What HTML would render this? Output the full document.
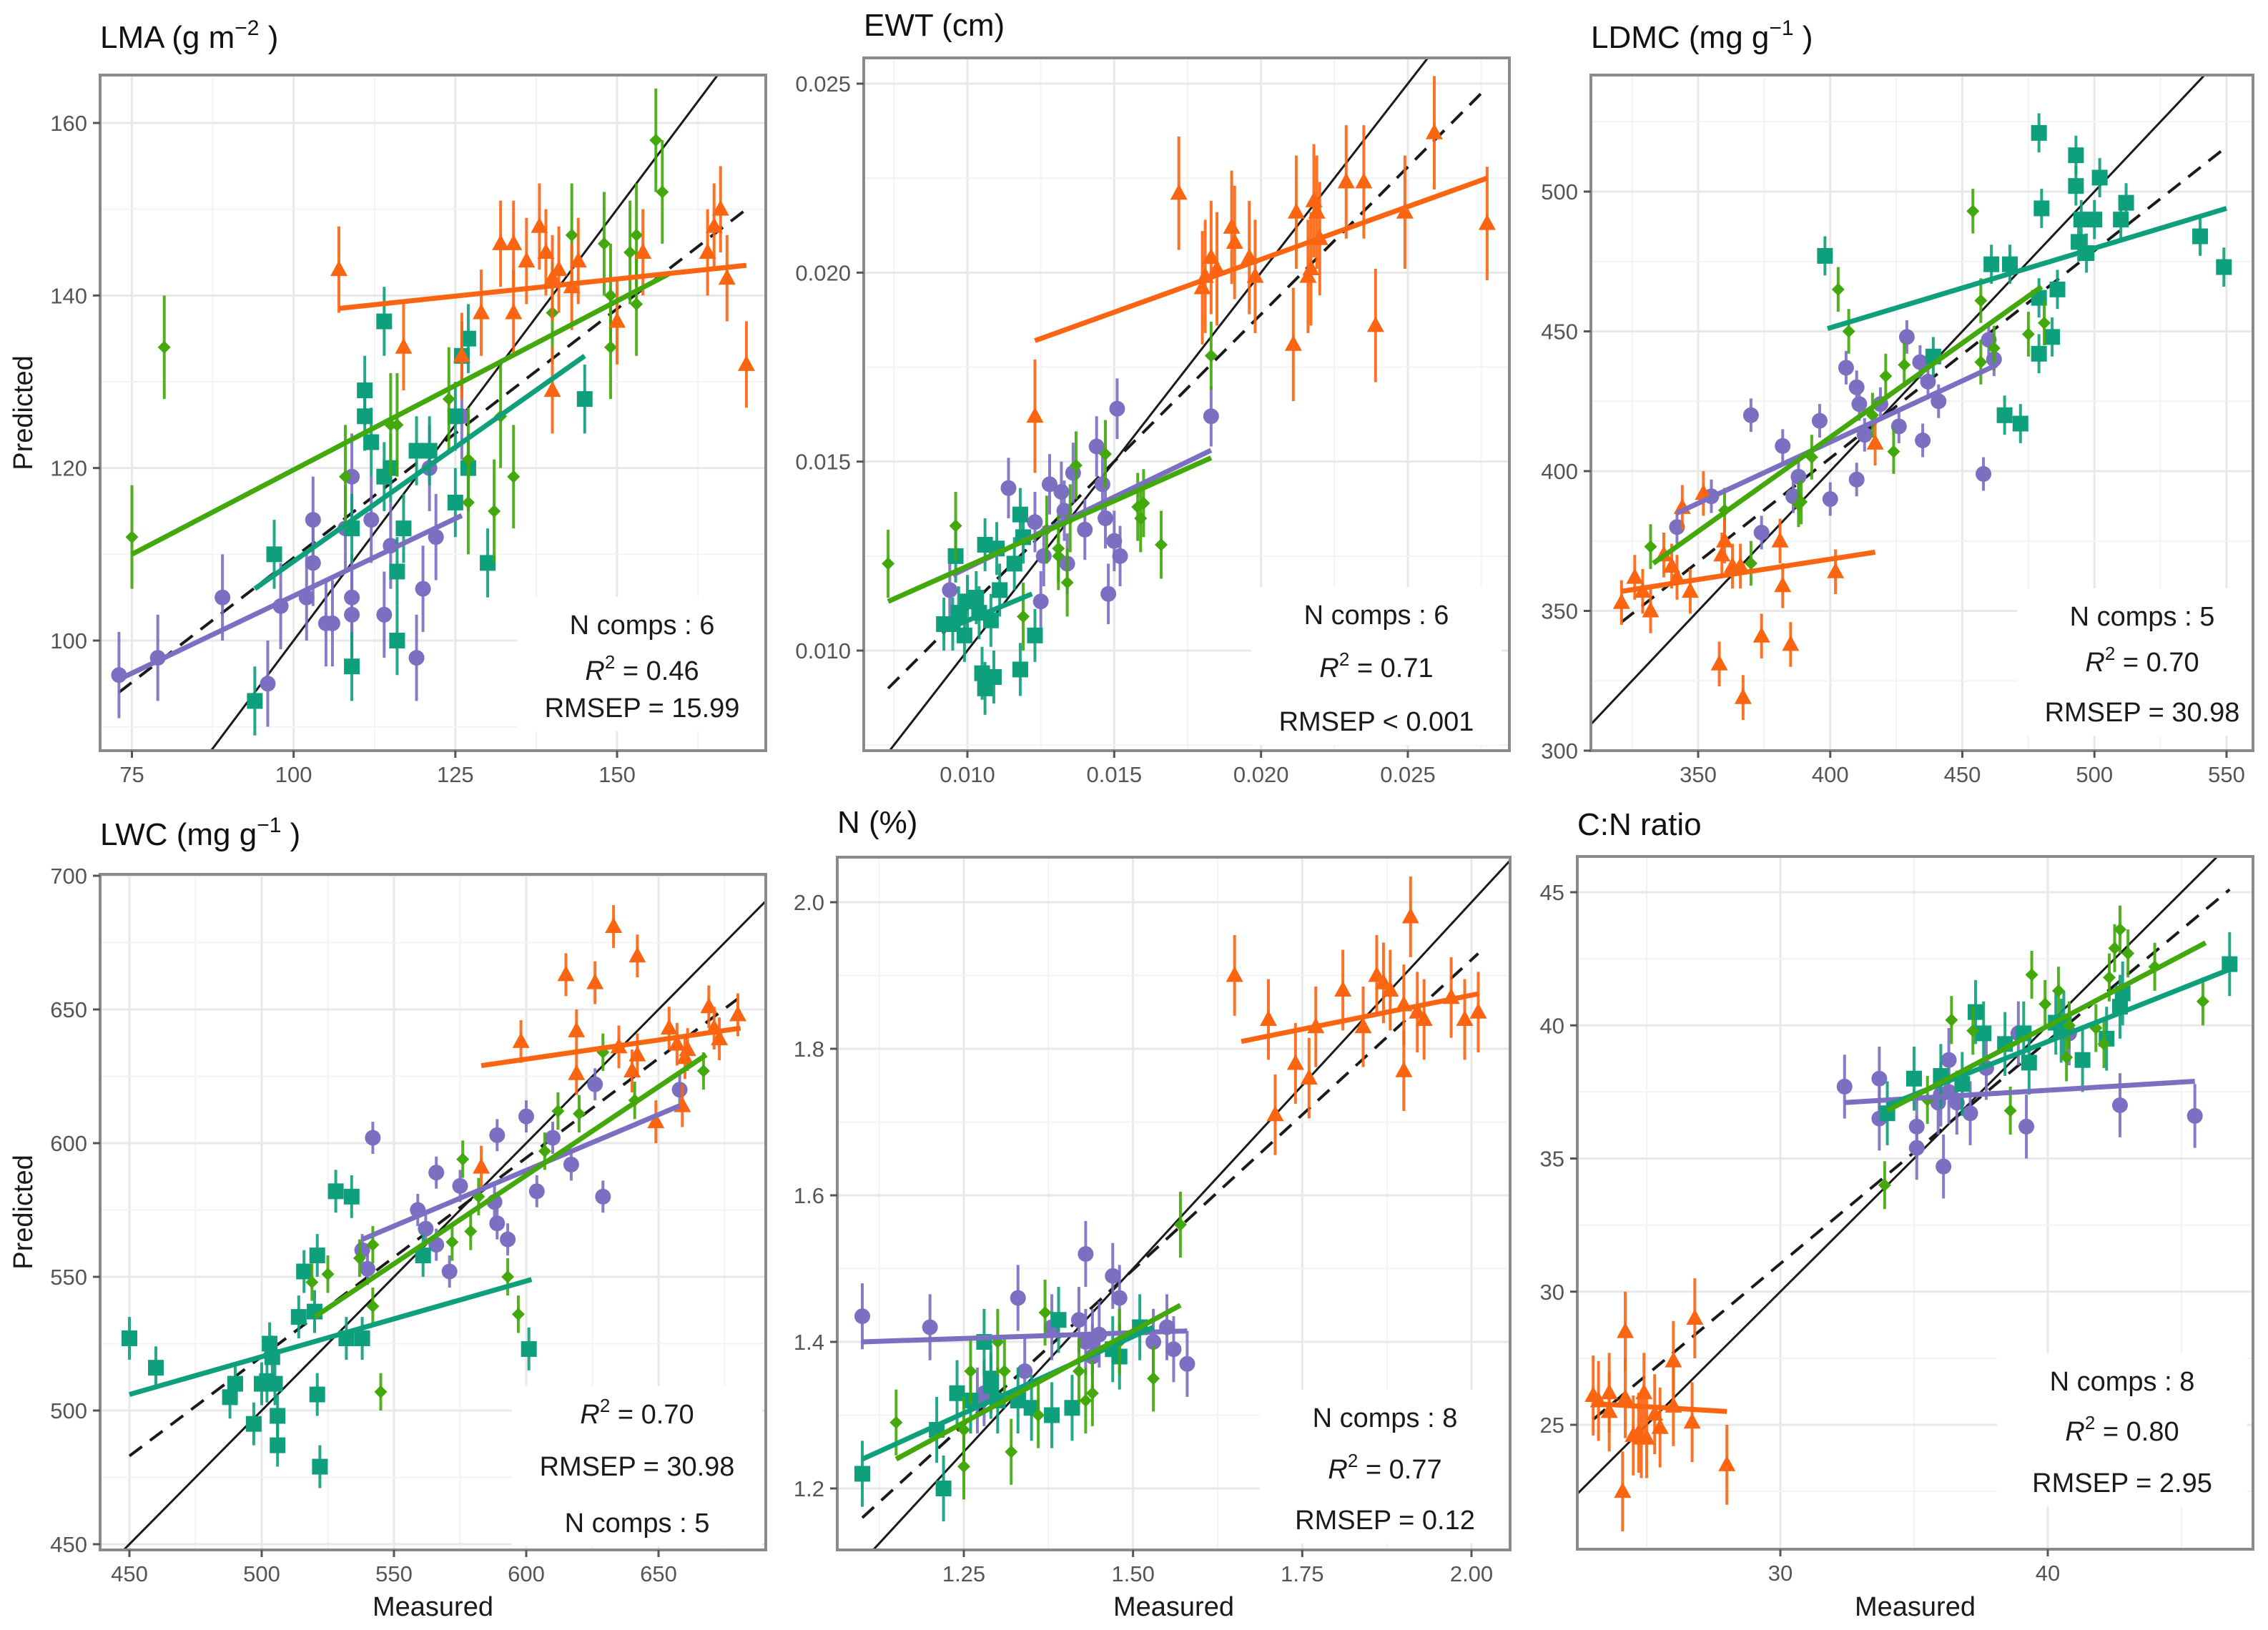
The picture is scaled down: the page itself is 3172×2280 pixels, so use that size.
<!DOCTYPE html>
<html><head><meta charset="utf-8">
<style>
html,body{margin:0;padding:0;background:#fff;}
svg{display:block;font-family:"Liberation Sans",sans-serif;}
</style></head>
<body>
<svg id="fig" width="3172" height="2280" viewBox="0 0 3172 2280" xmlns="http://www.w3.org/2000/svg"></svg>
<script>
// ---------- LMA ----------
const lmaXTicks=[75,100,125,150];
const lmaYTicks=[100,120,140,160];
const lmaPurple=[[73,96],[79,98],[89,105],[96,95],[98,104],[102,105],[103,114],[103,109],[105,102],[106,102],[108,113],[109,119],[109,105],[109,103],[112,114],[114,103],[115,111],[119,98],[120,106],[122,112],[121,120],[126,126]];
const lmaTeal=[[94,93],[97,110],[109,113],[109,97],[111,129],[111,126],[112,123],[114,137],[114,119],[116,100],[116,108],[117,113],[119,122],[121,122],[125,116],[125,126],[126,133],[127,135],[127,120],[130,109],[145,128],[115,120]];
const lmaGreen=[[75,112],[80,134],[108,119],[115,125],[116,125],[124,128],[127,116],[131,115],[132,126],[134,119],[140,138],[143,147],[148,146],[149,140],[149,134],[152,145],[153,147],[153,139],[156,158],[157,152],[127,121]];
const lmaOrange=[[107,143],[117,134],[126,133],[129,138],[132,146],[134,146],[134,138],[136,144],[138,148],[139,145],[140,142],[141,143],[140,129],[143,141],[144,144],[150,137],[154,145],[164,145],[165,148],[166,150],[167,142],[170,132]];
const lmaFits=[[73,95.5,126,114.5],[94,106,145,133],[75,110,158,142.5],[107,138.5,170,143.5]];
const lmaDashed=[73,94,170,150];
const lmaErr=[5,4,6,5];
const lmaStats=["N comps : 6","R2:0.46","RMSEP = 15.99"];
// ---------- EWT ----------
const ewtXTicks=[0.010,0.015,0.020,0.025];
const ewtYTicks=[0.010,0.015,0.020,0.025];
const ewtPurple=[[0.0114,0.0143],[0.0123,0.0134],[0.0125,0.0113],[0.0128,0.0144],[0.0132,0.0142],[0.0136,0.0147],[0.0134,0.0123],[0.0140,0.0132],[0.0144,0.0154],[0.0146,0.0144],[0.0151,0.0164],[0.0148,0.0115],[0.0147,0.0135],[0.0150,0.0129],[0.0152,0.0125],[0.0183,0.0162],[0.0094,0.0116],[0.0133,0.0137],[0.0126,0.0125]];
const ewtTeal=[[0.0092,0.0107],[0.0095,0.0107],[0.0096,0.0125],[0.0097,0.0110],[0.0099,0.0104],[0.0100,0.0113],[0.0103,0.0114],[0.0105,0.0094],[0.0106,0.0090],[0.0106,0.0128],[0.0108,0.0108],[0.0110,0.0127],[0.0111,0.0116],[0.0116,0.0123],[0.0118,0.0136],[0.0118,0.0095],[0.0119,0.0130],[0.0123,0.0104],[0.0104,0.0110],[0.0109,0.0093]];
const ewtGreen=[[0.0073,0.0123],[0.0096,0.0133],[0.0119,0.0109],[0.0127,0.0132],[0.0131,0.0127],[0.0134,0.0118],[0.0137,0.0149],[0.0135,0.0135],[0.0147,0.0152],[0.0158,0.0138],[0.0160,0.0139],[0.0159,0.0135],[0.0166,0.0128],[0.0183,0.0178],[0.0131,0.0125]];
const ewtOrange=[[0.0172,0.0221],[0.0123,0.0162],[0.0180,0.0196],[0.0181,0.0199],[0.0183,0.0204],[0.0185,0.0201],[0.0190,0.0212],[0.0191,0.0208],[0.0196,0.0204],[0.0198,0.0199],[0.0211,0.0181],[0.0212,0.0216],[0.0216,0.0199],[0.0217,0.0201],[0.0218,0.0219],[0.0219,0.0216],[0.0220,0.0209],[0.0229,0.0224],[0.0235,0.0224],[0.0239,0.0186],[0.0249,0.0216],[0.0259,0.0237],[0.0277,0.0213]];
const ewtFits=[[0.0095,0.0120,0.0183,0.0153],[0.0094,0.0106,0.0122,0.0115],[0.0073,0.0113,0.0183,0.0151],[0.0123,0.0182,0.0277,0.0225]];
const ewtDashed=[0.0073,0.0090,0.0277,0.0249];
const ewtErr=[0.0008,0.0007,0.0009,0.0015];
const ewtStats=["N comps : 6","R2:0.71","RMSEP < 0.001"];
// ---------- LDMC ----------
const ldmcXTicks=[350,400,450,500,550];
const ldmcYTicks=[300,350,400,450,500];
const ldmcPurple=[[342,380],[355,391],[370,420],[382,409],[374,378],[386,391],[388,398],[396,418],[400,390],[406,437],[410,430],[410,397],[411,424],[413,413],[419,424],[426,416],[429,448],[434,439],[435,411],[437,432],[441,425],[458,399],[460,447],[462,440]];
const ldmcTeal=[[398,477],[479,521],[493,513],[493,502],[480,494],[502,505],[495,490],[500,490],[497,478],[494,482],[510,490],[512,496],[540,484],[549,473],[461,474],[468,474],[439,441],[479,462],[486,465],[484,448],[479,442],[466,420],[472,417]];
const ldmcGreen=[[332,373],[360,386],[370,367],[389,389],[393,405],[403,465],[407,450],[416,420],[421,434],[424,407],[428,438],[454,493],[457,461],[457,439],[462,444],[475,449],[481,453],[388,388]];
const ldmcOrange=[[321,353],[326,362],[329,357],[332,350],[337,370],[340,366],[342,362],[347,357],[352,392],[344,387],[358,331],[359,370],[360,375],[366,366],[367,319],[374,341],[381,375],[382,359],[385,338],[402,364],[417,410],[363,366]];
const ldmcFits=[[342,385,463,438],[399,451,550,494],[333,367,480,466],[321,357,417,371]];
const ldmcDashed=[321,346,550,516];
const ldmcErr=[6,7,8,8];
const ldmcStats=["N comps : 5","R2:0.70","RMSEP =  30.98"];
// ---------- LWC ----------
const lwcXTicks=[450,500,550,600,650];
const lwcYTicks=[450,500,550,600,650,700];
const lwcPurple=[[538,560],[540,553],[542,602],[559,575],[562,568],[566,589],[566,562],[571,552],[575,584],[588,578],[589,570],[589,603],[593,564],[600,610],[604,582],[610,602],[617,592],[626,622],[629,580],[658,620]];
const lwcTeal=[[450,527],[460,516],[488,505],[490,510],[497,495],[500,510],[502,511],[503,525],[504,520],[505,510],[506,498],[506,487],[514,535],[516,552],[520,537],[521,558],[521,506],[522,479],[528,582],[534,580],[532,527],[538,527],[561,558],[601,523]];
const lwcGreen=[[519,548],[525,551],[537,557],[542,562],[542,539],[545,507],[572,563],[576,594],[579,567],[582,580],[593,550],[597,536],[607,597],[612,612],[620,611],[629,634],[641,616],[667,627]];
const lwcOrange=[[583,591],[598,638],[615,663],[619,642],[619,626],[626,660],[633,681],[635,636],[640,627],[642,633],[642,670],[649,608],[654,643],[657,637],[659,614],[660,632],[661,635],[669,651],[671,643],[673,639],[680,648]];
const lwcFits=[[538,564,658,614],[450,506,602,549],[520,535,668,633],[583,629,681,643]];
const lwcDashed=[450,483,680,654];
const lwcErr=[6,8,7,8];
const lwcStats=["R2:0.70","RMSEP =  30.98","N comps : 5"];
// ---------- N ----------
const nXTicks=[1.25,1.50,1.75,2.00];
const nYTicks=[1.2,1.4,1.6,1.8,2.0];
const nPurple=[[1.10,1.435],[1.20,1.42],[1.33,1.46],[1.28,1.33],[1.34,1.36],[1.38,1.42],[1.42,1.43],[1.43,1.52],[1.43,1.40],[1.44,1.38],[1.45,1.41],[1.44,1.40],[1.47,1.49],[1.48,1.46],[1.53,1.40],[1.55,1.42],[1.56,1.39],[1.58,1.37],[1.27,1.32]];
const nTeal=[[1.10,1.22],[1.21,1.28],[1.22,1.20],[1.24,1.33],[1.28,1.40],[1.29,1.34],[1.30,1.32],[1.33,1.32],[1.35,1.31],[1.38,1.30],[1.39,1.43],[1.41,1.31],[1.47,1.39],[1.48,1.38],[1.51,1.42],[1.29,1.35],[1.26,1.32]];
const nGreen=[[1.15,1.29],[1.25,1.23],[1.26,1.36],[1.25,1.28],[1.30,1.40],[1.31,1.36],[1.32,1.25],[1.36,1.30],[1.37,1.44],[1.42,1.36],[1.43,1.32],[1.44,1.33],[1.48,1.40],[1.53,1.35],[1.57,1.56]];
const nOrange=[[1.65,1.90],[1.70,1.84],[1.71,1.71],[1.74,1.78],[1.76,1.76],[1.77,1.83],[1.81,1.88],[1.84,1.83],[1.86,1.90],[1.87,1.89],[1.88,1.88],[1.90,1.86],[1.90,1.77],[1.91,1.98],[1.92,1.85],[1.93,1.84],[1.97,1.87],[1.99,1.84],[2.01,1.85]];
const nFits=[[1.10,1.40,1.58,1.415],[1.10,1.24,1.53,1.42],[1.15,1.24,1.57,1.45],[1.66,1.81,2.01,1.875]];
const nDashed=[1.10,1.16,2.01,1.93];
const nErr=[0.045,0.045,0.045,0.055];
const nStats=["N comps : 8","R2:0.77","RMSEP = 0.12"];
// ---------- C:N ----------
const cnXTicks=[30,40];
const cnYTicks=[25,30,35,40,45];
const cnPurple=[[32.4,37.7],[33.7,38.0],[33.7,36.5],[35.1,36.2],[35.1,35.4],[36.1,34.7],[35.9,37.1],[36.0,37.4],[36.3,37.5],[36.3,38.7],[36.6,37.1],[37.1,36.7],[37.7,38.4],[38.9,39.7],[39.2,36.2],[42.7,37.0],[45.5,36.6],[40.8,39.7]];
const cnTeal=[[34.0,36.7],[35.0,38.0],[36.0,38.1],[36.8,37.8],[37.3,40.5],[37.6,39.7],[38.4,39.3],[39.1,39.7],[39.3,38.6],[40.3,40.1],[40.6,40.1],[41.3,38.7],[42.2,39.5],[42.8,41.2],[42.7,40.7],[46.8,42.3],[40.5,39.8]];
const cnGreen=[[33.9,34.0],[35.5,37.2],[36.4,40.2],[37.2,39.8],[38.6,36.8],[39.4,41.9],[39.9,40.8],[40.4,41.3],[40.7,38.8],[41.8,39.9],[42.1,39.3],[42.3,41.8],[42.5,42.9],[42.7,43.6],[43.0,42.7],[44.0,42.2],[45.8,40.9],[40.8,40.0]];
const cnOrange=[[23.0,26.1],[23.2,25.9],[23.6,25.5],[23.6,26.2],[24.1,22.5],[24.2,28.5],[24.2,26.0],[24.5,24.6],[24.8,24.5],[24.9,26.2],[25.0,24.5],[25.3,25.4],[25.5,24.9],[26.0,27.4],[26.0,25.7],[26.7,25.1],[26.8,29.0],[28.0,23.5],[24.7,24.7]];
const cnFits=[[32.4,37.1,45.5,37.9],[34.0,37.0,46.8,42.1],[34.0,36.8,45.9,43.1],[23.0,25.8,28.0,25.5]];
const cnDashed=[23.0,25.2,46.8,45.1];
const cnErr=[1.2,1.2,0.9,1.5];
const cnStats=["N comps : 8","R2:0.80","RMSEP = 2.95"];

const COLORS=["#7b6fc1","#0e9f7c","#42a80c","#fb6410"];
const SHAPES=["circle","square","diamond","triangle"];
const NS="http://www.w3.org/2000/svg";
const svg=document.getElementById('fig');
function mk(tag,attrs,parent){const e=document.createElementNS(NS,tag);for(const k in attrs)e.setAttribute(k,attrs[k]);(parent||svg).appendChild(e);return e;}

const panels=[
 {key:'lma',title:'LMA (g m',sup:'−2',tail:' )',box:[140,105,1071,1050],xa:[75,184.5,150,863],ya:[160,172,100,896],xt:lmaXTicks,yt:lmaYTicks,xl:v=>v,yl:v=>v,g:[lmaPurple,lmaTeal,lmaGreen,lmaOrange],fits:lmaFits,dash:lmaDashed,err:lmaErr,stats:lmaStats,sx:898,sy:[873,937,989],ty:67,ylab:true,xlab:false},
 {key:'ewt',title:'EWT (cm)',box:[1208,81,2111,1050],xa:[0.010,1353,0.025,1969],ya:[0.025,117,0.010,910],xt:ewtXTicks,yt:ewtYTicks,xl:v=>v.toFixed(3),yl:v=>v.toFixed(3),g:[ewtPurple,ewtTeal,ewtGreen,ewtOrange],fits:ewtFits,dash:ewtDashed,err:ewtErr,stats:ewtStats,sx:1925,sy:[859,933,1008],ty:50},
 {key:'ldmc',title:'LDMC (mg g',sup:'−1',tail:' )',box:[2225,105,3151,1050],xa:[350,2375,550,3114],ya:[500,268,300,1050],xt:ldmcXTicks,yt:ldmcYTicks,xl:v=>v,yl:v=>v,g:[ldmcPurple,ldmcTeal,ldmcGreen,ldmcOrange],fits:ldmcFits,dash:ldmcDashed,err:ldmcErr,stats:ldmcStats,sx:2996,sy:[861,925,995],ty:67},
 {key:'lwc',title:'LWC (mg g',sup:'−1',tail:' )',box:[140,1223,1071,2168],xa:[450,181,650,921],ya:[700,1225,450,2160],xt:lwcXTicks,yt:lwcYTicks,xl:v=>v,yl:v=>v,g:[lwcPurple,lwcTeal,lwcGreen,lwcOrange],fits:lwcFits,dash:lwcDashed,err:lwcErr,stats:lwcStats,sx:891,sy:[1977,2050,2129],ty:1182,ylab:true,xlab:true},
 {key:'n',title:'N (%)',box:[1171,1199,2112,2168],xa:[1.25,1348,2.00,2058],ya:[2.0,1262,1.2,2082],xt:nXTicks,yt:nYTicks,xl:v=>v.toFixed(2),yl:v=>v.toFixed(1),g:[nPurple,nTeal,nGreen,nOrange],fits:nFits,dash:nDashed,err:nErr,stats:nStats,sx:1937,sy:[1982,2054,2125],ty:1165,xlab:true},
 {key:'cn',title:'C:N ratio',box:[2206,1198,3151,2167],xa:[30,2490,40,2864],ya:[45,1248,25,1993],xt:cnXTicks,yt:cnYTicks,xl:v=>v,yl:v=>v,g:[cnPurple,cnTeal,cnGreen,cnOrange],fits:cnFits,dash:cnDashed,err:cnErr,stats:cnStats,sx:2968,sy:[1931,2001,2073],ty:1168,xlab:true}
];

function drawShape(shape,cx,cy,col,parent){
  if(shape==='circle') return mk('circle',{cx:cx,cy:cy,r:11,fill:col},parent);
  if(shape==='square') return mk('rect',{x:cx-11,y:cy-11,width:22,height:22,fill:col},parent);
  if(shape==='diamond') return mk('polygon',{points:`${cx},${cy-9} ${cx+9},${cy} ${cx},${cy+9} ${cx-9},${cy}`,fill:col},parent);
  return mk('polygon',{points:`${cx},${cy-13} ${cx+12},${cy+9} ${cx-12},${cy+9}`,fill:col},parent);
}

panels.forEach(p=>{
  const [L,T,R,B]=p.box;
  const xs=v=>p.xa[1]+(v-p.xa[0])*(p.xa[3]-p.xa[1])/(p.xa[2]-p.xa[0]);
  const ys=v=>p.ya[1]+(v-p.ya[0])*(p.ya[3]-p.ya[1])/(p.ya[2]-p.ya[0]);
  const xinv=px=>p.xa[0]+(px-p.xa[1])*(p.xa[2]-p.xa[0])/(p.xa[3]-p.xa[1]);
  const yinv=py=>p.ya[0]+(py-p.ya[1])*(p.ya[2]-p.ya[0])/(p.ya[3]-p.ya[1]);
  const g=mk('g',{});
  
  
  const cid='clip-'+p.key;
  const cp=mk('clipPath',{id:cid},g);mk('rect',{x:L,y:T,width:R-L,height:B-T},cp);
  // title
  const t=mk('text',{x:L,y:p.ty,'font-size':44,fill:'#111'},g);
  
  
  t.appendChild(document.createTextNode(p.title));
  if(p.sup){const s=mk('tspan',{dy:-18,'font-size':30},t);s.textContent=p.sup;const tl=mk('tspan',{dy:18},t);tl.textContent=p.tail;}
  // grid
  const grid=mk('g',{'clip-path':`url(#${cid})`},g);
  
  
  const xstep=p.xt.length>1?p.xt[1]-p.xt[0]:10;
  const ystep=p.yt[1]-p.yt[0];
  const x0=xinv(L),x1=xinv(R),yb=yinv(B),yt0=yinv(T);
  for(let v=p.xt[0]-xstep*6;v<=x1+xstep;v+=xstep/2){const px=xs(v);if(px<L||px>R)continue;
    const major=Math.abs(((v-p.xt[0])/xstep)-Math.round((v-p.xt[0])/xstep))<1e-6;
    mk('line',{x1:px,x2:px,y1:T,y2:B,stroke:major?'#e8e8e8':'#f3f3f3','stroke-width':major?3:2},grid);}
  for(let v=p.yt[0]-ystep*6;v<=Math.max(yb,yt0)+ystep;v+=ystep/2){const py=ys(v);if(py<T||py>B)continue;
    const major=Math.abs(((v-p.yt[0])/ystep)-Math.round((v-p.yt[0])/ystep))<1e-6;
    mk('line',{x1:L,x2:R,y1:py,y2:py,stroke:major?'#e8e8e8':'#f3f3f3','stroke-width':major?3:2},grid);}
  // stats background
  const sb=mk('rect',{x:p.sx-175,y:p.sy[0]-38,width:350,height:p.sy[2]-p.sy[0]+72,fill:'#fff'},g);
  // marks
  const marks=mk('g',{'clip-path':`url(#${cid})`},g);
  // identity line
  const ax0=Math.min(x0,yb),ax1=Math.max(x1,yt0);
  const id=mk('line',{x1:xs(ax0),y1:ys(ax0),x2:xs(ax1),y2:ys(ax1),stroke:'#1a1a1a','stroke-width':3},marks);
  
  
  const dl=mk('line',{x1:xs(p.dash[0]),y1:ys(p.dash[1]),x2:xs(p.dash[2]),y2:ys(p.dash[3]),stroke:'#1a1a1a','stroke-width':4,'stroke-dasharray':'22 14'},marks);
  
  
  p.g.forEach((pts,gi)=>{
    const col=COLORS[gi];const e=p.err[gi];
    const grp=mk('g',{},marks);
    
    
    pts.forEach(d=>{
      const cx=xs(d[0]),cy=ys(d[1]);
      mk('line',{x1:cx,x2:cx,y1:ys(d[1]-e),y2:ys(d[1]+e),stroke:col,'stroke-width':4,opacity:0.9},grp);
      const m=drawShape(SHAPES[gi],cx,cy,col,grp);
      
      
    });
  });
  p.fits.forEach((f,fi)=>{
    const l=mk('line',{x1:xs(f[0]),y1:ys(f[1]),x2:xs(f[2]),y2:ys(f[3]),stroke:COLORS[fi],'stroke-width':7},marks);
    
    
  });
  // border
  const bd=mk('rect',{x:L,y:T,width:R-L,height:B-T,fill:'none',stroke:'#8a8a8a','stroke-width':4},g);
  
  
  // ticks
  p.xt.forEach(v=>{const px=xs(v);
    mk('line',{x1:px,x2:px,y1:B,y2:B+10,stroke:'#555','stroke-width':3},g);
    const tx=mk('text',{x:px,y:B+44,'font-size':31,fill:'#555','text-anchor':'middle'},g);
    
    
    tx.textContent=p.xl(v);});
  p.yt.forEach(v=>{const py=ys(v);
    mk('line',{x1:L-10,x2:L,y1:py,y2:py,stroke:'#555','stroke-width':3},g);
    const tx=mk('text',{x:L-18,y:py+11,'font-size':31,fill:'#555','text-anchor':'end'},g);
    
    
    tx.textContent=p.yl(v);});
  // stats
  p.stats.forEach((s,i)=>{
    const tx=mk('text',{x:p.sx,y:p.sy[i]+14,'font-size':38,fill:'#1a1a1a','text-anchor':'middle'},g);
    
    
    if(s.startsWith('R2:')){
      const a=mk('tspan',{'font-style':'italic'},tx);a.textContent='R';
      const b=mk('tspan',{dy:-16,'font-size':26},tx);b.textContent='2';
      const c=mk('tspan',{dy:16},tx);c.textContent=' = '+s.slice(3);
    } else tx.textContent=s;
  });
  if(p.ylab){
    const cy=(T+B)/2;
    const yl=mk('text',{x:32,y:cy,'font-size':38,fill:'#1a1a1a','text-anchor':'middle',transform:`rotate(-90 32 ${cy})`,dy:13},g);
    
    
    yl.textContent='Predicted';
  }
  if(p.xlab){
    const xl=mk('text',{x:(L+R)/2,y:2260,'font-size':38,fill:'#1a1a1a','text-anchor':'middle'},g);
    
    
    xl.textContent='Measured';
  }
});
</script>
</body></html>
